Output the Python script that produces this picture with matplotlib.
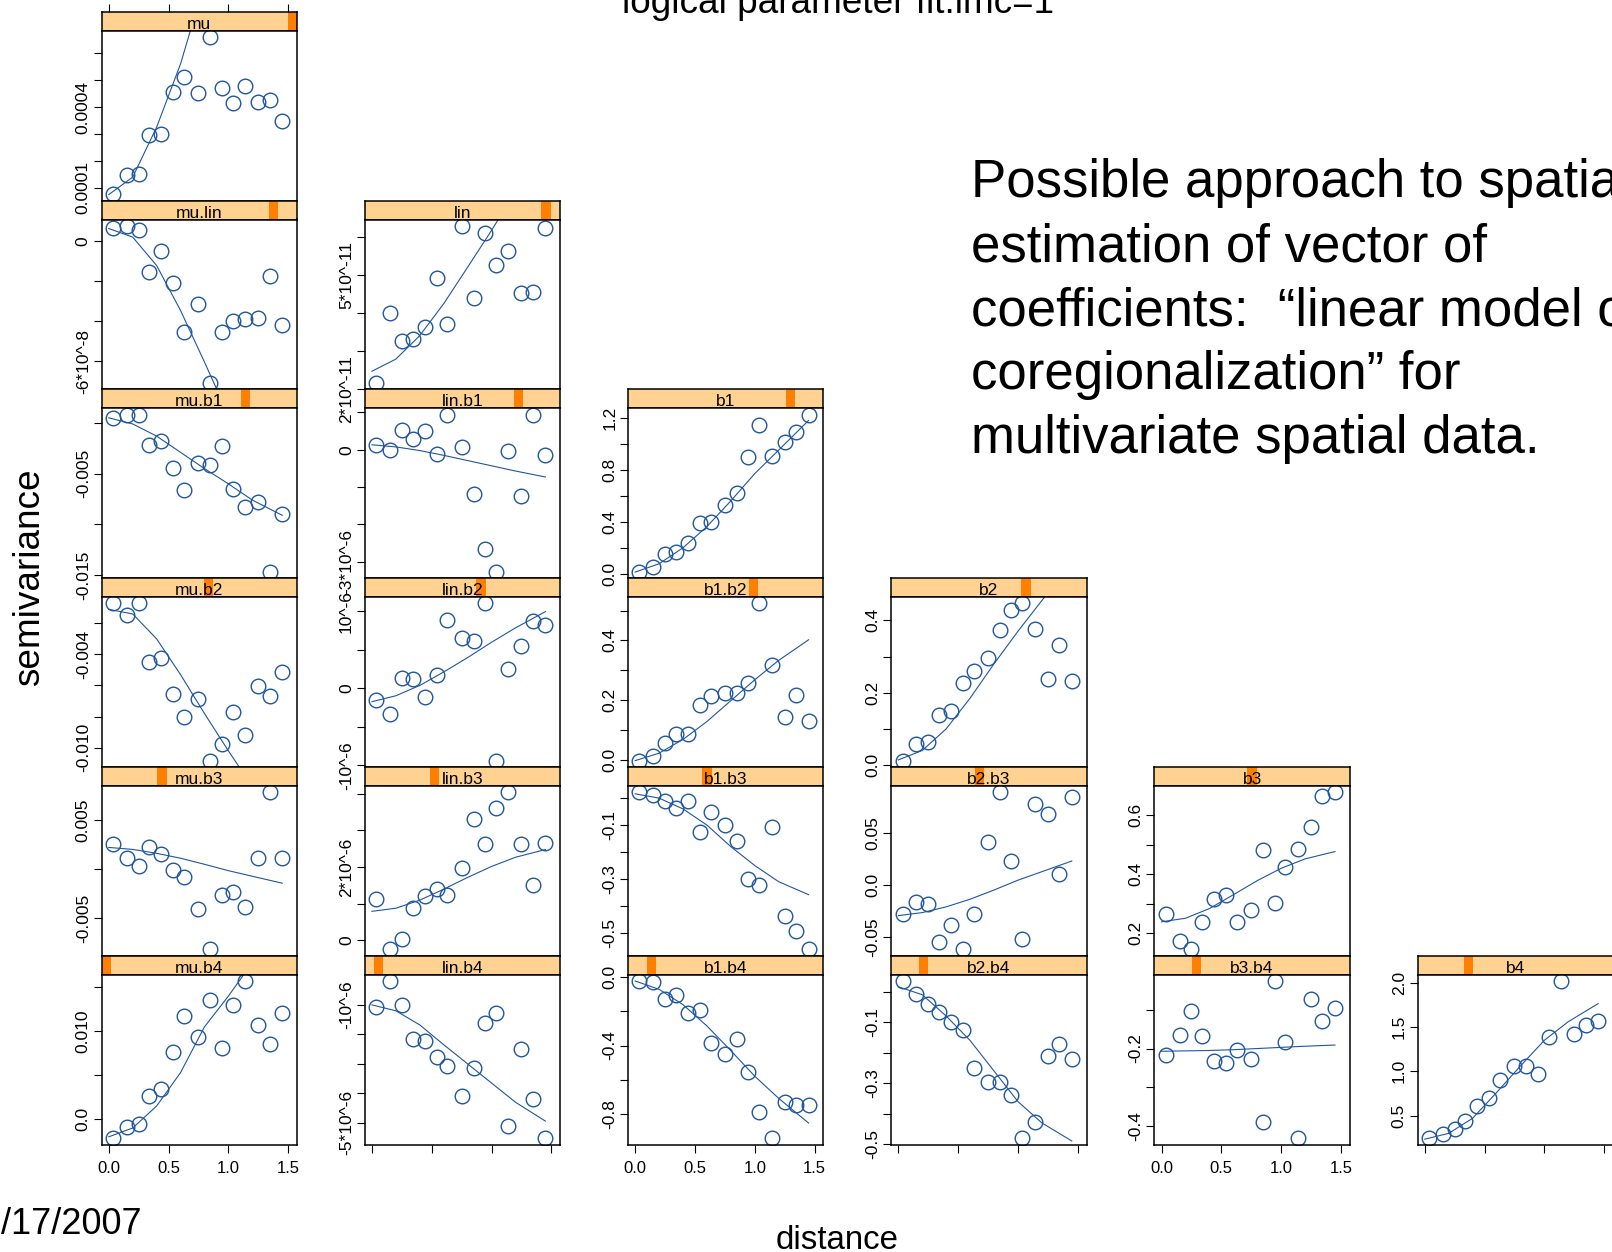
import matplotlib
matplotlib.use("Agg")
from matplotlib import pyplot as plt
from matplotlib.patches import Rectangle

plt.rcParams["font.family"] = ["Liberation Sans", "DejaVu Sans"]

# DATA: sample distances and semivariances

dist = [0.035, 0.15, 0.25, 0.34, 0.44, 0.54, 0.63, 0.75, 0.85, 0.945, 1.035, 1.14, 1.25, 1.345, 1.45]
model_dist = [0.0, 0.2, 0.4, 0.6, 0.8, 1.0, 1.2, 1.45]

gamma_mu = [7.65e-5, 1.47e-4, 1.52e-4, 2.95e-4, 3.0e-4, 4.57e-4, 5.12e-4, 4.51e-4, 6.6e-4, 4.7e-4, 4.16e-4, 4.77e-4, 4.2e-4, 4.25e-4, 3.48e-4]
model_mu = [0.75e-4, 1.4e-4, 3.25e-4, 5.6e-4, 8.6e-4, 11.5e-4, 14e-4, 17e-4]
yt_mu = [1e-4, 2e-4, 3e-4, 4e-4, 5e-4, 6e-4]
yl_mu = ["0.0001", "", "", "0.0004", "", ""]

gamma_mu_lin = [0.633e-8, 0.767e-8, 0.567e-8, -1.55e-8, -0.517e-8, -2.08e-8, -4.55e-8, -3.13e-8, -7.1e-8, -4.55e-8, -4.0e-8, -3.9e-8, -3.83e-8, -1.73e-8, -4.18e-8]
model_mu_lin = [0.63e-8, 0.2e-8, -1.22e-8, -3.47e-8, -6.05e-8, -8.7e-8, -11.2e-8, -13.9e-8]
yt_mu_lin = [0, -2e-8, -4e-8, -6e-8]
yl_mu_lin = ["0", "", "", "-6*10^-8"]

gamma_lin = [2.15e-11, 3.99e-11, 3.25e-11, 3.32e-11, 3.62e-11, 4.91e-11, 3.70e-11, 6.29e-11, 4.39e-11, 6.11e-11, 5.27e-11, 5.62e-11, 4.52e-11, 4.54e-11, 6.24e-11]
model_lin = [2.46e-11, 2.78e-11, 3.4e-11, 4.24e-11, 5.2e-11, 6.17e-11, 7.2e-11, 8.3e-11]
yt_lin = [2e-11, 3e-11, 4e-11, 5e-11, 6e-11]
yl_lin = ["2*10^-11", "", "", "5*10^-11", ""]

gamma_mu_b1 = [0.00049, 0.00075, 0.00082, -0.00216, -0.00183, -0.00442, -0.00661, -0.00396, -0.00416, -0.00232, -0.00652, -0.00828, -0.00776, -0.01467, -0.009]
model_mu_b1 = [0.0005, -0.0001, -0.0013, -0.0029, -0.0045, -0.006, -0.0076, -0.0091]
yt_mu_b1 = [0, -0.005, -0.01, -0.015]
yl_mu_b1 = ["", "-0.005", "", "-0.015"]

gamma_lin_b1 = [0.133e-6, -0.018e-6, 0.516e-6, 0.284e-6, 0.498e-6, -0.124e-6, 0.942e-6, 0.062e-6, -1.18e-6, -2.67e-6, -3.27e-6, -0.044e-6, -1.23e-6, 0.942e-6, -0.133e-6]
model_lin_b1 = [0.133e-6, 0.076e-6, -0.022e-6, -0.15e-6, -0.29e-6, -0.43e-6, -0.57e-6, -0.73e-6]
yt_lin_b1 = [1e-6, 0, -1e-6, -2e-6, -3e-6]
yl_lin_b1 = ["", "0", "", "", "-3*10^-6"]

gamma_b1 = [0.015, 0.051, 0.155, 0.171, 0.237, 0.387, 0.395, 0.53, 0.622, 0.902, 1.144, 0.91, 1.017, 1.088, 1.225]
model_b1 = [0.013, 0.077, 0.2, 0.363, 0.561, 0.771, 0.952, 1.18]
yt_b1 = [0, 0.2, 0.4, 0.6, 0.8, 1.0, 1.2]
yl_b1 = ["0.0", "", "0.4", "", "0.8", "", "1.2"]

gamma_mu_b2 = [-0.00072, -0.00145, -0.00072, -0.00451, -0.00423, -0.00655, -0.008, -0.00689, -0.01083, -0.00977, -0.00772, -0.00917, -0.00604, -0.00666, -0.00511]
model_mu_b2 = [-0.0011, -0.0014, -0.003, -0.0053, -0.0078, -0.0102, -0.0125, -0.015]
yt_mu_b2 = [-0.002, -0.004, -0.006, -0.008, -0.010]
yl_mu_b2 = ["", "-0.004", "", "", "-0.010"]

gamma_lin_b2 = [-0.151e-6, -0.335e-6, 0.138e-6, 0.12e-6, -0.108e-6, 0.168e-6, 0.89e-6, 0.654e-6, 0.615e-6, 1.105e-6, -0.938e-6, 0.249e-6, 0.555e-6, 0.882e-6, 0.83e-6]
model_lin_b2 = [-0.172e-6, -0.095e-6, 0.039e-6, 0.214e-6, 0.401e-6, 0.6e-6, 0.787e-6, 0.998e-6]
yt_lin_b2 = [1e-6, 0.5e-6, 0, -0.5e-6, -1e-6]
yl_lin_b2 = ["10^-6", "", "0", "", "-10^-6"]

gamma_b1_b2 = [-0.003, 0.013, 0.055, 0.086, 0.086, 0.183, 0.213, 0.222, 0.224, 0.257, 0.524, 0.317, 0.143, 0.218, 0.131]
model_b1_b2 = [-0.003, 0.022, 0.068, 0.128, 0.198, 0.268, 0.333, 0.402]
yt_b1_b2 = [0, 0.1, 0.2, 0.3, 0.4, 0.5]
yl_b1_b2 = ["0.0", "", "0.2", "", "0.4", ""]

gamma_b2 = [0.012, 0.058, 0.064, 0.139, 0.15, 0.228, 0.261, 0.297, 0.374, 0.428, 0.447, 0.376, 0.239, 0.332, 0.232]
model_b2 = [0.014, 0.04, 0.1, 0.185, 0.28, 0.37, 0.455, 0.56]
yt_b2 = [0, 0.1, 0.2, 0.3, 0.4]
yl_b2 = ["0.0", "", "0.2", "", "0.4"]

gamma_mu_b3 = [0.0025, 0.00115, 0.0003, 0.00223, 0.00152, -0.000135, -0.00084, -0.00409, -0.00821, -0.00264, -0.0024, -0.00385, 0.00108, 0.00784, 0.00108]
model_mu_b3 = [0.0022, 0.002, 0.0016, 0.0011, 0.00048, -0.00017, -0.00074, -0.00145]
yt_mu_b3 = [0.005, 0, -0.005]
yl_mu_b3 = ["0.005", "", "-0.005"]

gamma_lin_b3 = [1.129e-6, -0.244e-6, 0.045e-6, 0.876e-6, 1.2e-6, 1.4e-6, 1.246e-6, 1.986e-6, 3.305e-6, 2.618e-6, 3.61e-6, 4.045e-6, 2.618e-6, 1.517e-6, 2.646e-6]
model_lin_b3 = [0.795e-6, 0.88e-6, 1.1e-6, 1.4e-6, 1.72e-6, 2.02e-6, 2.27e-6, 2.48e-6]
yt_lin_b3 = [0, 1e-6, 2e-6, 3e-6, 4e-6]
yl_lin_b3 = ["0", "", "2*10^-6", "", ""]

gamma_b1_b3 = [0.022, 0.012, -0.012, -0.036, -0.009, -0.126, -0.053, -0.098, -0.16, -0.299, -0.324, -0.108, -0.437, -0.493, -0.561]
model_b1_b3 = [0.016, 0.0, -0.04, -0.1, -0.18, -0.25, -0.31, -0.358]
yt_b1_b3 = [0, -0.1, -0.2, -0.3, -0.4, -0.5]
yl_b1_b3 = ["", "-0.1", "", "-0.3", "", "-0.5"]

gamma_b2_b3 = [-0.0282, -0.0165, -0.018, -0.0544, -0.0386, -0.0617, -0.0275, 0.0408, 0.0886, 0.0231, -0.0519, 0.0769, 0.068, 0.0101, 0.0839]
model_b2_b3 = [-0.0294, -0.0265, -0.021, -0.0137, -0.0049, 0.0045, 0.0126, 0.0228]
yt_b2_b3 = [0.05, 0, -0.05]
yl_b2_b3 = ["0.05", "0.0", "-0.05"]

gamma_b3 = [0.265, 0.171, 0.144, 0.238, 0.315, 0.33, 0.238, 0.278, 0.482, 0.301, 0.425, 0.487, 0.561, 0.665, 0.679]
model_b3 = [0.238, 0.25, 0.283, 0.33, 0.378, 0.42, 0.452, 0.477]
yt_b3 = [0.2, 0.3, 0.4, 0.5, 0.6]
yl_b3 = ["0.2", "", "0.4", "", "0.6"]

gamma_mu_b4 = [-0.00216, -0.00083, -0.00053, 0.00269, 0.00345, 0.00761, 0.01174, 0.00932, 0.01356, 0.00814, 0.01299, 0.01572, 0.01072, 0.00852, 0.01208]
model_mu_b4 = [-0.002, -0.001, 0.0015, 0.0053, 0.0105, 0.014, 0.0178, 0.022]
yt_mu_b4 = [0, 0.005, 0.01, 0.015]
yl_mu_b4 = ["0.0", "", "0.010", ""]

gamma_lin_b4 = [-1.079e-6, -0.189e-6, -1.0e-6, -2.16e-6, -2.24e-6, -2.77e-6, -3.08e-6, -4.08e-6, -3.14e-6, -1.63e-6, -1.28e-6, -5.09e-6, -2.48e-6, -4.19e-6, -5.52e-6]
model_lin_b4 = [-1.0e-6, -1.2e-6, -1.68e-6, -2.35e-6, -3.0e-6, -3.65e-6, -4.3e-6, -4.94e-6]
yt_lin_b4 = [-1e-6, -2e-6, -3e-6, -4e-6, -5e-6]
yl_lin_b4 = ["-10^-6", "", "", "", "-5*10^-6"]

gamma_b1_b4 = [-0.021, -0.025, -0.127, -0.103, -0.211, -0.191, -0.386, -0.449, -0.363, -0.554, -0.79, -0.944, -0.732, -0.751, -0.751]
model_b1_b4 = [-0.021, -0.07, -0.16, -0.285, -0.43, -0.58, -0.71, -0.855]
yt_b1_b4 = [0, -0.2, -0.4, -0.6, -0.8]
yl_b1_b4 = ["0.0", "", "-0.4", "", "-0.8"]

gamma_b2_b4 = [0.035, -0.009, -0.039, -0.068, -0.1, -0.127, -0.25, -0.295, -0.296, -0.34, -0.48, -0.428, -0.211, -0.172, -0.22]
model_b2_b4 = [0.016, -0.01, -0.08, -0.16, -0.26, -0.36, -0.43, -0.489]
yt_b2_b4 = [0, -0.1, -0.2, -0.3, -0.4, -0.5]
yl_b2_b4 = ["", "-0.1", "", "-0.3", "", "-0.5"]

gamma_b3_b4 = [-0.217, -0.164, -0.103, -0.168, -0.233, -0.237, -0.205, -0.226, -0.39, -0.026, -0.184, -0.431, -0.072, -0.13, -0.096]
model_b3_b4 = [-0.207, -0.206, -0.205, -0.203, -0.2, -0.197, -0.194, -0.191]
yt_b3_b4 = [-0.1, -0.2, -0.3, -0.4]
yl_b3_b4 = ["", "-0.2", "", "-0.4"]

gamma_b4 = [0.245, 0.29, 0.346, 0.44, 0.612, 0.702, 0.901, 1.062, 1.055, 0.965, 1.389, 2.019, 1.426, 1.52, 1.569]
model_b4 = [0.234, 0.3, 0.47, 0.76, 1.06, 1.35, 1.56, 1.764]
yt_b4 = [0.5, 1.0, 1.5, 2.0]
yl_b4 = ["0.5", "1.0", "1.5", "2.0"]

xticks = [0.0, 0.5, 1.0, 1.5]
xticklabels = ["0.0", "0.5", "1.0", "1.5"]

# order of the factor levels (position of the dark block in each strip)
levels = ["mu.b4", "lin.b4", "b1.b4", "b2.b4", "b3.b4", "b4",
          "mu.b3", "lin.b3", "b1.b3", "b2.b3", "b3",
          "mu.b2", "lin.b2", "b1.b2", "b2",
          "mu.b1", "lin.b1", "b1",
          "mu.lin", "lin", "mu"]

layout = [
    ["mu"],
    ["mu.lin", "lin"],
    ["mu.b1", "lin.b1", "b1"],
    ["mu.b2", "lin.b2", "b1.b2", "b2"],
    ["mu.b3", "lin.b3", "b1.b3", "b2.b3", "b3"],
    ["mu.b4", "lin.b4", "b1.b4", "b2.b4", "b3.b4", "b4"],
]

panels = {
    "mu": (gamma_mu, model_mu, yt_mu, yl_mu),
    "mu.lin": (gamma_mu_lin, model_mu_lin, yt_mu_lin, yl_mu_lin),
    "lin": (gamma_lin, model_lin, yt_lin, yl_lin),
    "mu.b1": (gamma_mu_b1, model_mu_b1, yt_mu_b1, yl_mu_b1),
    "lin.b1": (gamma_lin_b1, model_lin_b1, yt_lin_b1, yl_lin_b1),
    "b1": (gamma_b1, model_b1, yt_b1, yl_b1),
    "mu.b2": (gamma_mu_b2, model_mu_b2, yt_mu_b2, yl_mu_b2),
    "lin.b2": (gamma_lin_b2, model_lin_b2, yt_lin_b2, yl_lin_b2),
    "b1.b2": (gamma_b1_b2, model_b1_b2, yt_b1_b2, yl_b1_b2),
    "b2": (gamma_b2, model_b2, yt_b2, yl_b2),
    "mu.b3": (gamma_mu_b3, model_mu_b3, yt_mu_b3, yl_mu_b3),
    "lin.b3": (gamma_lin_b3, model_lin_b3, yt_lin_b3, yl_lin_b3),
    "b1.b3": (gamma_b1_b3, model_b1_b3, yt_b1_b3, yl_b1_b3),
    "b2.b3": (gamma_b2_b3, model_b2_b3, yt_b2_b3, yl_b2_b3),
    "b3": (gamma_b3, model_b3, yt_b3, yl_b3),
    "mu.b4": (gamma_mu_b4, model_mu_b4, yt_mu_b4, yl_mu_b4),
    "lin.b4": (gamma_lin_b4, model_lin_b4, yt_lin_b4, yl_lin_b4),
    "b1.b4": (gamma_b1_b4, model_b1_b4, yt_b1_b4, yl_b1_b4),
    "b2.b4": (gamma_b2_b4, model_b2_b4, yt_b2_b4, yl_b2_b4),
    "b3.b4": (gamma_b3_b4, model_b3_b4, yt_b3_b4, yl_b3_b4),
    "b4": (gamma_b4, model_b4, yt_b4, yl_b4),
}

#------------------------------------------------
#FIGURE

W, H = 1612, 1252
fig = plt.figure(figsize=(W / 100, H / 100), dpi=100)

def box(left, top, width, height):
    return [left / W, 1 - (top + height) / H, width / W, height / H]

blue = "#1f56a0"
strip_bg = "#ffd292"
strip_fg = "#ff7f00"
xlim = (-0.06, 1.573)

left0, col_step, panel_w = 101.6, 263.2, 195.3
top0, row_step, strip_h = 11.7, 188.8, 19
nrow = len(layout)

for r, row in enumerate(layout):
    for c, name in enumerate(row):
        gamma, model, yt, yl = panels[name]
        left = left0 + c * col_step
        top = top0 + r * row_step

        # strip
        sax = fig.add_axes(box(left, top, panel_w, strip_h))
        sax.set_facecolor(strip_bg)
        idx = levels.index(name)
        sax.add_patch(Rectangle((idx / 21, 0), 1 / 21, 1, transform=sax.transAxes,
                                facecolor=strip_fg, edgecolor="none"))
        sax.text(0.5, 0.1, name, transform=sax.transAxes, ha="center", va="baseline",
                 fontsize=12.5)
        sax.set_xlim(xlim)
        sax.set_yticks([])
        if r == 0:
            sax.set_xticks(xticks)
            sax.tick_params(axis="x", top=True, bottom=False, labeltop=False, labelbottom=False,
                            direction="out", length=5.8, width=0.8)
        else:
            sax.set_xticks([])
        for sp in sax.spines.values():
            sp.set_linewidth(1.1)

        # panel: y range comes from the points only, the model line is clipped
        ax = fig.add_axes(box(left, top + strip_h, panel_w, row_step - strip_h))
        ax.plot(dist, gamma, "o", mfc="none", mec=blue, ms=10.5, mew=1.0)
        ax.margins(x=0, y=0.04)
        ax.autoscale_view()
        ylim = ax.get_ylim()
        ax.plot(model_dist, model, color=blue, lw=0.8)

        ax.set_yticks(yt)
        ax.set_yticklabels(yl, rotation=90, va="center", ha="right")
        ax.tick_params(axis="y", direction="out", length=5.8, width=0.8, pad=2, labelsize=12.5)

        if r == nrow - 1:
            ax.set_xticks(xticks)
            if c % 2 == 0:
                ax.set_xticklabels(xticklabels)
            else:
                ax.set_xticklabels([])
            ax.tick_params(axis="x", direction="out", length=5.8, width=0.8, pad=6, labelsize=12)
        else:
            ax.set_xticks([])

        ax.set_xlim(xlim)
        ax.set_ylim(ylim)
        for sp in ax.spines.values():
            sp.set_linewidth(1.1)

# axis labels and title (the top of the title is cut off in the reference)
fig.text(838 / W, 1 - 13 / H, "logical parameter fit.lmc=1", ha="center", va="baseline", fontsize=26.6)
fig.text(837 / W, 1 - 1249 / H, "distance", ha="center", va="baseline", fontsize=23.8)
fig.text(30 / W, 1 - 577 / H, "semivariance", ha="center", va="center", rotation=90, fontsize=26.6)
fig.text(142 / W, 1 - 1234 / H, "/17/2007", ha="right", va="baseline", fontsize=26)

# slide text on the right
note_lines = ["Possible approach to spatial",
              "estimation of vector of",
              "coefficients:  \u201clinear model of",
              "coregionalization\u201d for",
              "multivariate spatial data."]
for i, line in enumerate(note_lines):
    fig.text(971 / W, 1 - (197.4 + i * 63.8) / H, line, ha="left", va="baseline", fontsize=38)

plt.savefig("out.png", dpi=100)
plt.close()
